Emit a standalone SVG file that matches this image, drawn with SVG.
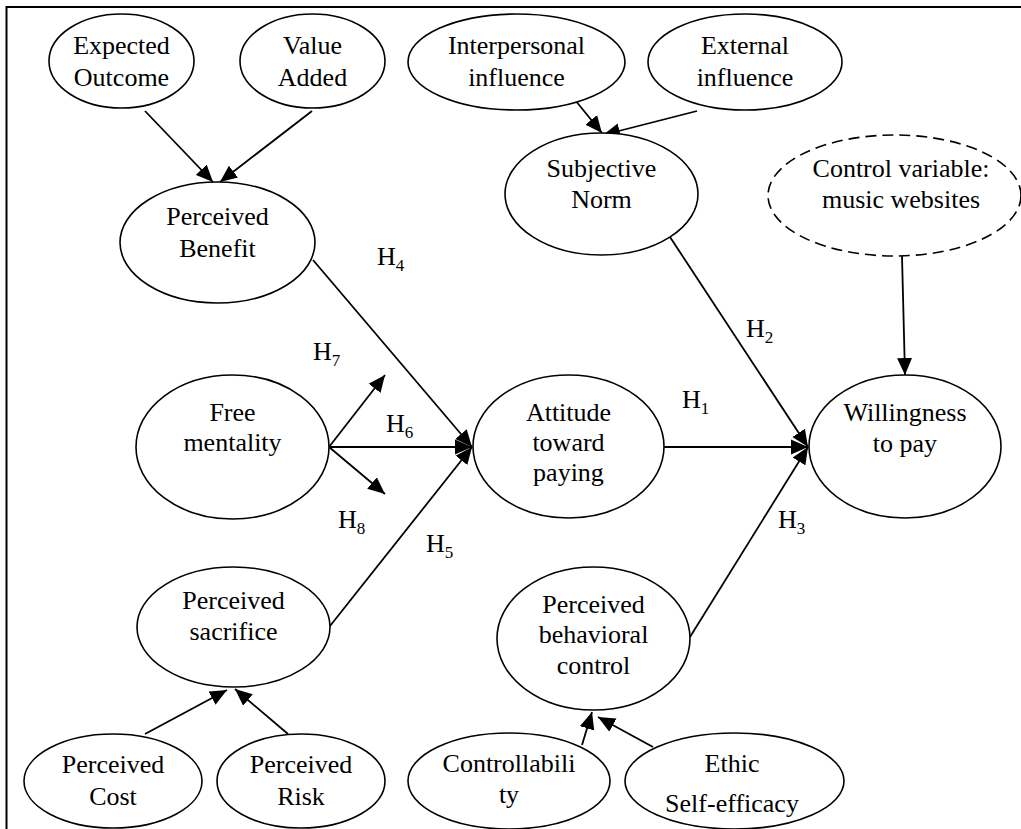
<svg xmlns="http://www.w3.org/2000/svg" width="1021" height="829" viewBox="0 0 1021 829">
<style>
.n{fill:#fff;stroke:#000;stroke-width:1.6}
.d{fill:#fff;stroke:#000;stroke-width:1.6;stroke-dasharray:11 6}
text{font-family:'Liberation Serif','Times New Roman',Times,'DejaVu Serif',serif;font-size:26px;fill:#000}
.t{text-anchor:middle}
.s{font-size:17px}
.c{stroke:#000;stroke-width:1.8;fill:none;marker-end:url(#a)}
</style>
<defs>
<marker id="a" markerUnits="userSpaceOnUse" markerWidth="20" markerHeight="16" refX="17" refY="8" orient="auto">
<path d="M0,0.5 L17,8 L0,15.5 Z" fill="#000"/>
</marker>
</defs>
<rect width="1021" height="829" fill="#fff"/>
<path d="M6.5,840 V7 H1021" fill="none" stroke="#000" stroke-width="2"/>

<g id="edges">
<line class="c" x1="145" y1="111" x2="213" y2="182"/>
<line class="c" x1="312" y1="111" x2="220" y2="182"/>
<line class="c" x1="575" y1="100" x2="602" y2="133"/>
<line class="c" x1="697" y1="111" x2="603" y2="135"/>
<line class="c" x1="902" y1="256" x2="905" y2="375"/>
<line class="c" x1="313" y1="260" x2="472" y2="447"/>
<line class="c" x1="329" y1="447" x2="472" y2="447"/>
<line class="c" x1="329" y1="447" x2="385" y2="375"/>
<line class="c" x1="329" y1="447" x2="385" y2="494"/>
<line class="c" x1="330" y1="626" x2="472" y2="447"/>
<line class="c" x1="664" y1="447" x2="808" y2="447"/>
<line class="c" x1="670" y1="237" x2="808" y2="447"/>
<line class="c" x1="690" y1="637" x2="808" y2="447"/>
<line class="c" x1="145" y1="734" x2="227" y2="690"/>
<line class="c" x1="288" y1="734" x2="235" y2="689"/>
<line class="c" x1="582" y1="745" x2="592" y2="712"/>
<line class="c" x1="653" y1="747" x2="598" y2="717"/>
</g>

<g id="labels">
<text x="377" y="265">H<tspan class="s" dy="6">4</tspan></text>
<text x="313" y="360">H<tspan class="s" dy="6">7</tspan></text>
<text x="386" y="432">H<tspan class="s" dy="6">6</tspan></text>
<text x="338" y="528">H<tspan class="s" dy="6">8</tspan></text>
<text x="426" y="552">H<tspan class="s" dy="6">5</tspan></text>
<text x="746" y="337">H<tspan class="s" dy="6">2</tspan></text>
<text x="682" y="408">H<tspan class="s" dy="6">1</tspan></text>
<text x="778" y="528">H<tspan class="s" dy="6">3</tspan></text>
</g>

<g id="expected-outcome">
<ellipse class="n" cx="121.5" cy="61" rx="72.5" ry="47"/>
<text class="t" x="121.5" y="54">Expected</text>
<text class="t" x="121.5" y="86">Outcome</text>
</g>
<g id="value-added">
<ellipse class="n" cx="312.5" cy="61" rx="72.5" ry="47"/>
<text class="t" x="312.5" y="54">Value</text>
<text class="t" x="312.5" y="86">Added</text>
</g>
<g id="interpersonal-influence">
<ellipse class="n" cx="516.5" cy="62" rx="108.5" ry="48"/>
<text class="t" x="516.5" y="54">Interpersonal</text>
<text class="t" x="516.5" y="86">influence</text>
</g>
<g id="external-influence">
<ellipse class="n" cx="745" cy="62" rx="97" ry="48"/>
<text class="t" x="745" y="54">External</text>
<text class="t" x="745" y="86">influence</text>
</g>
<g id="subjective-norm">
<ellipse class="n" cx="601.5" cy="194" rx="96.5" ry="61"/>
<text class="t" x="601.5" y="177">Subjective</text>
<text class="t" x="601.5" y="208">Norm</text>
</g>
<g id="control-variable">
<ellipse class="d" cx="894.5" cy="195.5" rx="126.5" ry="60.5"/>
<text class="t" x="901" y="177">Control variable:</text>
<text class="t" x="901" y="208">music websites</text>
</g>
<g id="perceived-benefit">
<ellipse class="n" cx="217.5" cy="242.5" rx="97.5" ry="60.5"/>
<text class="t" x="217.5" y="225">Perceived</text>
<text class="t" x="217.5" y="257">Benefit</text>
</g>
<g id="free-mentality">
<ellipse class="n" cx="232.5" cy="447" rx="96.5" ry="72"/>
<text class="t" x="232.5" y="421">Free</text>
<text class="t" x="232.5" y="451">mentality</text>
</g>
<g id="attitude">
<ellipse class="n" cx="568.5" cy="446.5" rx="95.5" ry="71.5"/>
<text class="t" x="568.5" y="421">Attitude</text>
<text class="t" x="568.5" y="451">toward</text>
<text class="t" x="568.5" y="481">paying</text>
</g>
<g id="willingness">
<ellipse class="n" cx="905" cy="446.5" rx="96" ry="71.5"/>
<text class="t" x="905" y="421">Willingness</text>
<text class="t" x="905" y="452">to pay</text>
</g>
<g id="perceived-sacrifice">
<ellipse class="n" cx="233.5" cy="627" rx="96.5" ry="60"/>
<text class="t" x="233.5" y="609">Perceived</text>
<text class="t" x="233.5" y="640">sacrifice</text>
</g>
<g id="perceived-behavioral-control">
<ellipse class="n" cx="593.5" cy="638.5" rx="96.5" ry="71.5"/>
<text class="t" x="593.5" y="613">Perceived</text>
<text class="t" x="593.5" y="643">behavioral</text>
<text class="t" x="593.5" y="674">control</text>
</g>
<g id="perceived-cost">
<ellipse class="n" cx="113" cy="781" rx="89" ry="47"/>
<text class="t" x="113" y="773">Perceived</text>
<text class="t" x="113" y="805">Cost</text>
</g>
<g id="perceived-risk">
<ellipse class="n" cx="301" cy="781" rx="84" ry="47"/>
<text class="t" x="301" y="773">Perceived</text>
<text class="t" x="301" y="805">Risk</text>
</g>
<g id="controllability">
<ellipse class="n" cx="509" cy="781" rx="101" ry="48"/>
<text class="t" x="509" y="772">Controllabili</text>
<text class="t" x="509" y="803">ty</text>
</g>
<g id="ethic-self-efficacy">
<ellipse class="n" cx="734.5" cy="781" rx="109.5" ry="48"/>
<text class="t" x="732" y="772">Ethic</text>
<text class="t" x="732" y="812">Self-efficacy</text>
</g>
</svg>
